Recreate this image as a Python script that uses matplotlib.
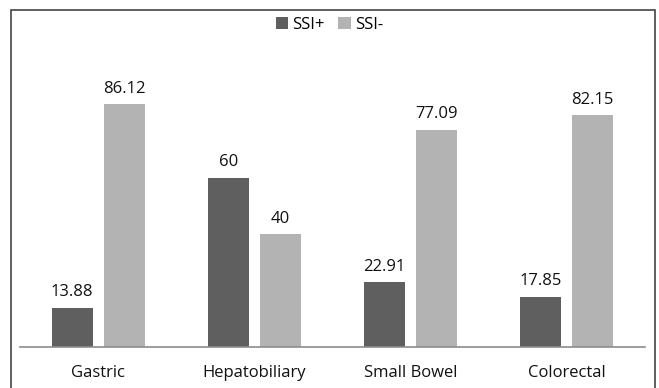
import numpy as np
import matplotlib.pyplot as plt
from matplotlib.patches import Rectangle

categories = ['Gastric', 'Hepatobiliary', 'Small Bowel', 'Colorectal']
ssi_pos = [13.88, 60, 22.91, 17.85]
ssi_neg = [86.12, 40, 77.09, 82.15]
ssi_pos_labels = ['13.88', '60', '22.91', '17.85']
ssi_neg_labels = ['86.12', '40', '77.09', '82.15']

plt.rcParams['font.family'] = ['Open Sans', 'DejaVu Sans']

fig = plt.figure(figsize=(6.59, 3.88), dpi=100)
ax = fig.add_axes([20 / 659, 41 / 388, 625 / 659, 282 / 388])

x = np.arange(len(categories))
width = 0.262
offset = 0.166
dark = '#5f5f5f'
light = '#b3b3b3'

b1 = ax.bar(x - offset, ssi_pos, width, color=dark, label='SSI+')
b2 = ax.bar(x + offset, ssi_neg, width, color=light, label='SSI-')

for bars, labels in [(b1, ssi_pos_labels), (b2, ssi_neg_labels)]:
    for bar, lab in zip(bars, labels):
        ax.annotate(lab, (bar.get_x() + bar.get_width() / 2, bar.get_height()),
                    xytext=(0, 5.5), textcoords='offset points',
                    ha='center', va='bottom', fontsize=12, color='#111111')

ax.set_xlim(-0.5, 3.5)
ax.set_ylim(0, 100)
ax.set_xticks(x)
ax.set_xticklabels(categories, fontsize=12, color='#111111')
ax.tick_params(axis='x', length=0, pad=13)
ax.set_yticks([])
for side in ['top', 'right', 'left']:
    ax.spines[side].set_visible(False)
ax.spines['bottom'].set_color('#8c8c8c')
ax.spines['bottom'].set_linewidth(1.2)

fig.legend(handles=[b1, b2], loc='center', bbox_to_anchor=(0.5, 1 - 25 / 388),
           ncol=2, frameon=False, fontsize=12, handlelength=0.75, handleheight=0.75,
           handletextpad=0.25, columnspacing=0.8)

# outer frame
fig.patches.append(Rectangle((11 / 659, -0.01), 644 / 659, 1 - 10 / 388 + 0.01,
                             transform=fig.transFigure, fill=False,
                             edgecolor='#444444', linewidth=1.2))

fig.savefig('out.png', dpi=100)
